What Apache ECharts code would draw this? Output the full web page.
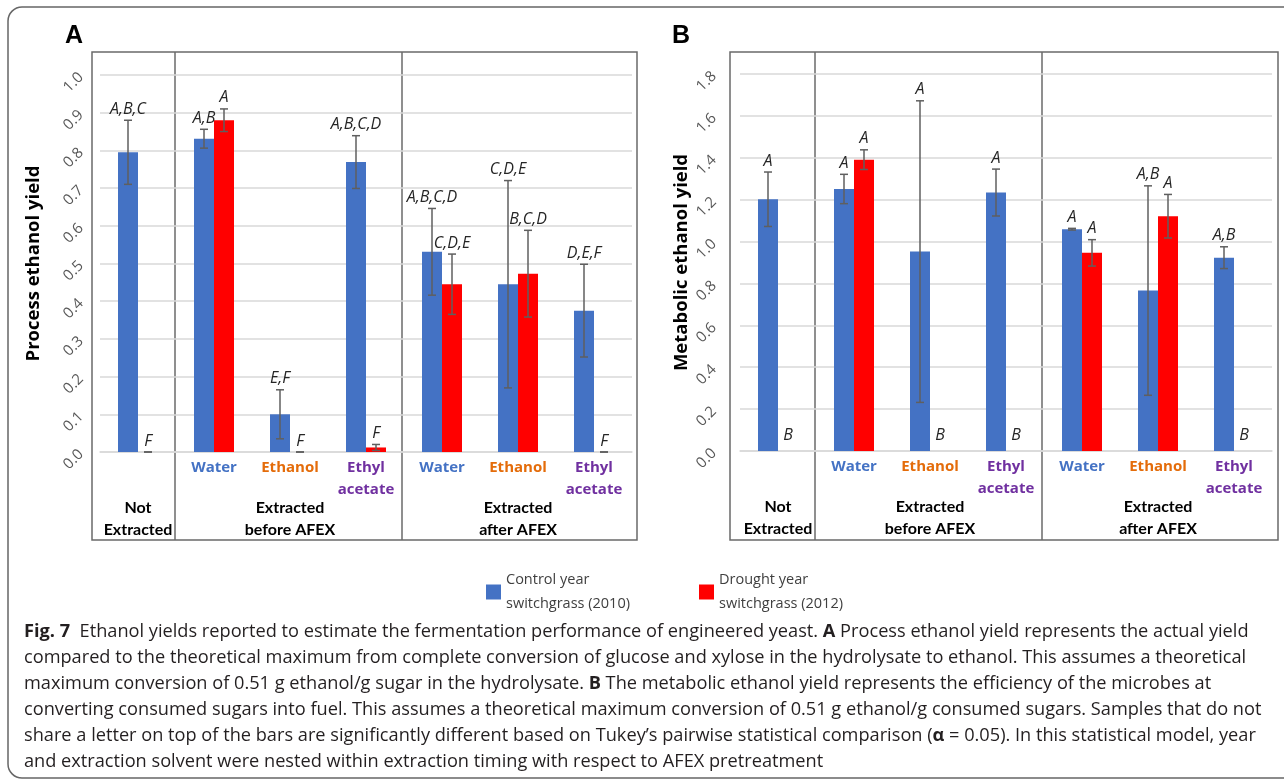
<!DOCTYPE html>
<html><head><meta charset="utf-8">
<script src="https://cdn.jsdelivr.net/npm/echarts@6/dist/echarts.min.js"></script>
<style>html,body{margin:0;padding:0;background:#fff}#c{width:1284px;height:780px}</style>
</head><body><div id="c"></div>
<script>
// ---------- data ----------
const categories = ['Not Extracted', 'Before Water', 'Before Ethanol', 'Before Ethyl acetate', 'After Water', 'After Ethanol', 'After Ethyl acetate'];
const solventLabels = ['', 'Water', 'Ethanol', 'Ethyl\nacetate', 'Water', 'Ethanol', 'Ethyl\nacetate'];
const groupLabels = ['Not\nExtracted', '', 'Extracted\nbefore AFEX', '', '', 'Extracted\nafter AFEX', ''];
const seriesNames = ['Control year\nswitchgrass (2010)', 'Drought year\nswitchgrass (2012)'];

// Panel A: process ethanol yield
const processControl = [0.795, 0.831, 0.100, 0.769, 0.531, 0.445, 0.375];
const processControlErr = [0.085, 0.025, 0.065, 0.070, 0.115, 0.275, 0.123];
const processControlLetters = ['A,B,C', 'A,B', 'E,F', 'A,B,C,D', 'A,B,C,D', 'C,D,E', 'D,E,F'];
const processDrought = [0, 0.880, 0, 0.012, 0.445, 0.473, 0];
const processDroughtErr = [0, 0.030, 0, 0.008, 0.080, 0.115, 0];
const processDroughtLetters = ['F', 'A', 'F', 'F', 'C,D,E', 'B,C,D', 'F'];
const processTicks = {min: 0, max: 1.0, interval: 0.1};

// Panel B: metabolic ethanol yield
const metabolicControl = [1.202, 1.251, 0.952, 1.234, 1.059, 0.766, 0.923];
const metabolicControlErr = [0.130, 0.070, 0.720, 0.112, 0.004, 0.500, 0.052];
const metabolicControlLetters = ['A', 'A', 'A', 'A', 'A', 'A,B', 'A,B'];
const metabolicDrought = [0, 1.391, 0, 0, 0.946, 1.121, 0];
const metabolicDroughtErr = [null, 0.047, null, null, 0.063, 0.104, null];
const metabolicDroughtLetters = ['B', 'A', 'B', 'B', 'A', 'A', 'B'];
const metabolicTicks = {min: 0, max: 1.8, interval: 0.2};

const captionLines = [
  '{b|Fig. 7}  Ethanol yields reported to estimate the fermentation performance of engineered yeast. {b|A} Process ethanol yield represents the actual yield',
  'compared to the theoretical maximum from complete conversion of glucose and xylose in the hydrolysate to ethanol. This assumes a theoretical',
  'maximum conversion of 0.51 g ethanol/g sugar in the hydrolysate. {b|B} The metabolic ethanol yield represents the efficiency of the microbes at',
  'converting consumed sugars into fuel. This assumes a theoretical maximum conversion of 0.51 g ethanol/g consumed sugars. Samples that do not',
  'share a letter on top of the bars are significantly different based on Tukey\u2019s pairwise statistical comparison ({b|\u03b1} = 0.05). In this statistical model, year',
  'and extraction solvent were nested within extraction timing with respect to AFEX pretreatment'
];

// ---------- styles ----------
const FONT = "'Open Sans', 'Noto Sans', sans-serif";
const GFONT = "Lato, 'Open Sans', sans-serif";
const BLUE = '#4472C4', RED = '#FF0000';
const solventColors = {Water: '#4472C4', Ethanol: '#E46C0A', Ethyl: '#7030A0'};
const BAR_W = 20;
const CAP_FS = 18.2;

function solventFormatter(v) {
  if (!v) return '';
  if (v.indexOf('Ethyl') === 0) return '{p|Ethyl}\n{p|acetate}';
  if (v === 'Water') return '{w|Water}';
  return '{e|Ethanol}';
}
const solventRich = {
  w: {color: solventColors.Water, fontWeight: 'bold', fontSize: 15, fontFamily: FONT, lineHeight: 22},
  e: {color: solventColors.Ethanol, fontWeight: 'bold', fontSize: 15, fontFamily: FONT, lineHeight: 22},
  p: {color: solventColors.Ethyl, fontWeight: 'bold', fontSize: 15, fontFamily: FONT, lineHeight: 22}
};

function xAxes(gridIndex) {
  return [
    {type: 'category', gridIndex, data: solventLabels, boundaryGap: true,
     axisLine: {show: true, lineStyle: {color: '#d9d9d9', width: 1.5}},
     axisTick: {show: false}, splitLine: {show: false},
     axisLabel: {interval: 0, margin: 5, formatter: solventFormatter, rich: solventRich}},
    {type: 'category', gridIndex, data: groupLabels, position: 'bottom', boundaryGap: true,
     axisLine: {show: false}, axisTick: {show: false}, splitLine: {show: false},
     axisLabel: {interval: 0, margin: 45, color: '#000', fontWeight: 'bold', fontSize: 16, fontFamily: GFONT, lineHeight: 22}}
  ];
}
function yAxis(gridIndex, ticks, name, nameGap, margin) {
  return {type: 'value', gridIndex, min: ticks.min, max: ticks.max, interval: ticks.interval,
    name, nameLocation: 'middle', nameGap, nameRotate: 90,
    nameTextStyle: {fontFamily: FONT, fontWeight: 'bold', fontSize: 18.5, color: '#000'},
    axisLine: {show: false}, axisTick: {show: false},
    splitLine: {show: true, lineStyle: {color: '#d9d9d9', width: 1.5}},
    axisLabel: {rotate: 45, margin, color: '#595959', fontSize: 15, fontFamily: FONT,
      formatter: v => v.toFixed(1)}};
}
function barSeries(name, data, color, gi) {
  return {type: 'bar', name, xAxisIndex: gi * 2, yAxisIndex: gi, data, barWidth: BAR_W, barGap: '0%',
    itemStyle: {color}, emphasis: {disabled: true}, z: 2};
}
function errSeries(name, values, errs, letters, gi, offset) {
  return {
    type: 'custom', name, xAxisIndex: gi * 2, yAxisIndex: gi, z: 5, silent: true,
    data: values.map((v, i) => [i, v]),
    encode: {x: 0, y: 1},
    renderItem: (params, api) => {
      const i = params.dataIndex;
      const base = api.coord([i, values[i]]);
      const x = base[0] + offset;
      const children = [];
      let top = base[1];
      let gap = 8;
      const e = errs[i];
      if (e != null) {
        const hi = api.coord([i, values[i] + e])[1];
        const lo = api.coord([i, Math.max(0, values[i] - e)])[1];
        const ls = {stroke: '#5f5f5f', lineWidth: 1.5};
        children.push({type: 'line', shape: {x1: x, y1: hi, x2: x, y2: lo}, style: ls});
        children.push({type: 'line', shape: {x1: x - 4, y1: hi, x2: x + 4, y2: hi}, style: ls});
        children.push({type: 'line', shape: {x1: x - 4, y1: lo, x2: x + 4, y2: lo}, style: ls});
        top = hi; gap = 3;
      }
      if (letters[i]) {
        children.push({type: 'text', style: {text: letters[i], x: x, y: top - gap, align: 'center', verticalAlign: 'bottom',
          fill: '#262626', fontSize: 16, fontStyle: 'italic', fontFamily: FONT}});
      }
      return {type: 'group', children};
    }
  };
}

// ---------- decoration (frames / dividers / caption) ----------
const frameStyle = {stroke: '#6a6a6a', lineWidth: 1.5, fill: null};
function frame(x0, x1, d1, d2) {
  return [
    {type: 'rect', shape: {x: x0, y: 52, width: x1 - x0, height: 488}, style: frameStyle, silent: true},
    {type: 'line', shape: {x1: d1, y1: 52, x2: d1, y2: 540}, style: frameStyle, silent: true},
    {type: 'line', shape: {x1: d2, y1: 52, x2: d2, y2: 540}, style: frameStyle, silent: true}
  ];
}
const graphics = [
  {type: 'rect', shape: {x: 8, y: 7, width: 1310, height: 771, r: 14}, style: {stroke: '#666', lineWidth: 1.5, fill: null}, silent: true},
  ...frame(92, 637, 175, 402),
  ...frame(730, 1278, 815, 1042),
  {type: 'text', left: 65, top: 24, style: {text: 'A', fontSize: 25, fontWeight: 'bold', fontFamily: "'Liberation Sans', Arial, sans-serif", fill: '#000'}},
  {type: 'text', left: 672, top: 24, style: {text: 'B', fontSize: 25, fontWeight: 'bold', fontFamily: "'Liberation Sans', Arial, sans-serif", fill: '#000'}}
];
captionLines.forEach((t, k) => {
  graphics.push({type: 'text', left: 24, top: 632 + 26 * k - 13,
    style: {text: t, fontSize: CAP_FS, fontFamily: FONT, fill: '#231f20', lineHeight: 26,
      rich: {b: {fontWeight: 'bold', fontSize: CAP_FS, fontFamily: FONT, fill: '#231f20', lineHeight: 26}}}});
});

const legendBase = {orient: 'horizontal', top: 563, itemWidth: 15, itemHeight: 15, itemGap: 10, icon: 'rect',
  selectedMode: false, textStyle: {fontFamily: FONT, fontSize: 14.5, color: '#404040', lineHeight: 24}};

const option = {
  animation: false,
  backgroundColor: '#fff',
  grid: [
    {left: 100, right: 1284 - 632, top: 75, bottom: 780 - 452},
    {left: 740, right: 1284 - 1272, top: 74, bottom: 780 - 451}
  ],
  xAxis: [...xAxes(0), ...xAxes(1)],
  yAxis: [
    yAxis(0, processTicks, 'Process ethanol yield', 57, 19),
    yAxis(1, metabolicTicks, 'Metabolic ethanol yield', 49, 26)
  ],
  legend: [
    Object.assign({}, legendBase, {left: 481, data: [seriesNames[0]]}),
    Object.assign({}, legendBase, {left: 694, data: [seriesNames[1]]})
  ],
  series: [
    barSeries(seriesNames[0], processControl, BLUE, 0),
    barSeries(seriesNames[1], processDrought, RED, 0),
    errSeries('errA1', processControl, processControlErr, processControlLetters, 0, -BAR_W / 2),
    errSeries('errA2', processDrought, processDroughtErr, processDroughtLetters, 0, BAR_W / 2),
    barSeries(seriesNames[0], metabolicControl, BLUE, 1),
    barSeries(seriesNames[1], metabolicDrought, RED, 1),
    errSeries('errB1', metabolicControl, metabolicControlErr, metabolicControlLetters, 1, -BAR_W / 2),
    errSeries('errB2', metabolicDrought, metabolicDroughtErr, metabolicDroughtLetters, 1, BAR_W / 2)
  ],
  graphic: graphics
};
const chart = echarts.init(document.getElementById('c'), null, {renderer: 'canvas'});
chart.setOption(option);
</script></body></html>
